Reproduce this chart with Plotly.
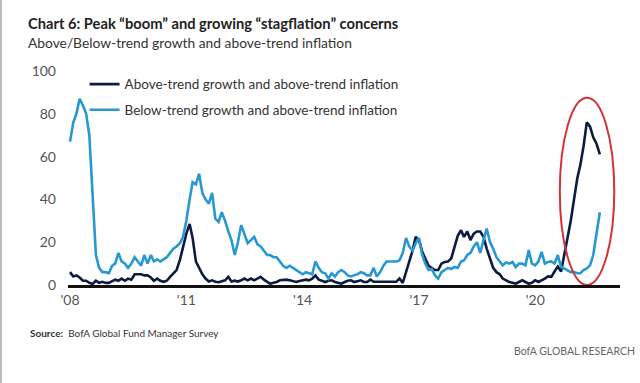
import pandas as pd
import plotly.graph_objects as go

# Monthly survey readings (% of FMS respondents), Jan 2008 onward
dates = pd.date_range("2008-01-01", periods=165, freq="MS")

above_trend = [
    6, 4, 4.5, 3.5, 2, 2, 1, 0.5, 2, 1, 1.5, 1, 1, 2, 2.5, 2, 3, 2, 3, 2.5,
    5, 5, 5, 4.5, 4.5, 3.5, 2, 3, 2, 1.5, 2, 3.8, 5.3, 7, 11.6, 18, 24, 28.5, 22, 11,
    7.7, 5, 3, 1.6, 2.2, 1.5, 1.3, 1.6, 2.2, 3.8, 1.6, 2, 1.6, 2.2, 3, 2.2, 3, 2.2, 3, 3.8,
    2.5, 1.4, 0.6, 1, 1.4, 2.2, 2.5, 2.5, 2.2, 1.8, 1.4, 1.9, 2.2, 2.5, 2.2, 3, 4.5, 2.5, 2, 1.4,
    2, 2.2, 1.4, 1, 0.6, 1.4, 2, 2.2, 1.4, 1.8, 2.2, 1.4, 1.4, 2.5, 1.5, 1.5, 1.5, 1.5, 1.2, 1.5,
    1.2, 1.5, 3, 1, 6, 11, 16, 22.5, 21, 15.5, 12, 9, 8, 7, 7, 10, 10.8, 11, 12.4, 17.8,
    23, 25.6, 22.5, 25, 21, 24, 25, 25, 22.5, 17, 12.4, 8, 6, 5, 3, 2.2, 1.4, 1, 0.6, 1.4,
    2.2, 1.4, 0.6, 1, 2.2, 1.4, 2, 3, 4, 3.8, 6.3, 8.6, 6.3, 14, 22, 30, 40, 50, 56, 65,
    76, 74, 69, 66, 61,
]

below_trend = [
    67, 76, 80, 87, 84, 80, 70, 40, 14, 8, 6, 6, 5.5, 9, 10, 15, 11, 10, 8, 10,
    13, 11, 9, 14, 10, 14, 11, 12, 11, 12, 13, 15, 17, 18, 19.5, 22.5, 30, 40, 48, 47,
    52, 43, 40, 38, 43, 31, 29.5, 34, 30, 25, 21, 14, 20, 28, 24, 19.5, 21, 22.5, 19, 18,
    16, 14, 14, 13, 13, 11, 9, 8, 9, 8, 7, 6, 5, 6, 5.5, 5, 11, 8, 6, 5.5,
    3, 5.5, 4, 6, 7, 6, 4.5, 4, 4.5, 5, 6, 5.5, 4.5, 4.5, 8, 4, 6, 9, 11, 11,
    11, 11, 11.5, 15, 22, 18, 16, 19.5, 22, 14, 10, 7, 7.5, 4.5, 3, 6, 7, 8, 7.5, 8.5,
    8, 11, 11.5, 14, 15, 18, 20, 15, 21, 26.4, 20, 17, 13, 10.8, 9.2, 10.5, 10, 10.8, 8.4, 10,
    10, 9.2, 16.3, 10, 9.2, 11, 15.5, 10, 10.8, 11, 10, 14, 8.4, 7.7, 7, 6, 6, 5.5, 5.5, 7,
    7.7, 9.2, 14, 23, 34,
]

series_names = [
    "Above-trend growth and above-trend inflation",
    "Below-trend growth and above-trend inflation",
]
tick_dates = ["2008-01-01", "2011-01-01", "2014-01-01", "2017-01-01", "2020-01-01"]
tick_text = ["'08", "'11", "'14", "'17", "'20"]
y_ticks = [0, 20, 40, 60, 80, 100]

FONT = "Lato, 'Open Sans', sans-serif"
DARK = "#0c1c40"
BLUE = "#2898d2"

fig = go.Figure()
fig.add_trace(go.Scatter(
    x=dates, y=above_trend, mode="lines", name=series_names[0],
    line=dict(color=DARK, width=2.6), cliponaxis=False, legendgroup="a",
))
fig.add_trace(go.Scatter(
    x=dates, y=below_trend, mode="lines", name=series_names[1],
    line=dict(color=BLUE, width=2.6), cliponaxis=False, legendgroup="b",
))

# red ellipse highlighting the recent period
fig.add_shape(
    type="circle", xref="x", yref="y",
    x0="2020-08-20", x1="2022-01-15", y0=0, y1=87.5,
    line=dict(color="#d0343a", width=2), layer="above",
)

PH = 214  # plot height in px
PW = 552  # plot width in px

fig.update_layout(
    width=640, height=383,
    margin=dict(l=68, r=20, t=71, b=98, autoexpand=False),
    paper_bgcolor="white", plot_bgcolor="white",
    font=dict(family=FONT, color="#444", size=14),
    showlegend=True,
    legend=dict(
        x=0.03, y=1.01, xanchor="left", yanchor="top",
        bgcolor="rgba(0,0,0,0)", font=dict(size=13.5, color="#333", family=FONT),
        tracegroupgap=5, itemwidth=30,
    ),
    xaxis=dict(
        type="date", range=["2007-12-13", "2022-03-10"],
        tickvals=tick_dates, ticktext=tick_text,
        showgrid=False, zeroline=False, showline=True, automargin=False,
        linecolor="#111", linewidth=2.5, ticks="",
        tickfont=dict(size=14, color="#555"),
    ),
    yaxis=dict(
        range=[0, 100], tickvals=y_ticks, automargin=False,
        showgrid=False, zeroline=False, showline=False, ticks="",
        tickfont=dict(size=14, color="#555"), ticklabelstandoff=11,
    ),
    annotations=[
        dict(text="<b>Chart 6: Peak “boom” and growing “stagflation” concerns</b>",
             xref="paper", yref="paper", x=(26 - 68) / PW, y=1.0, xanchor="left", yanchor="middle",
             yshift=(71 - 23), showarrow=False,
             font=dict(size=14.7, color="#222", family=FONT)),
        dict(text="Above/Below-trend growth and above-trend inflation",
             xref="paper", yref="paper", x=(26 - 68) / PW, y=1.0, xanchor="left", yanchor="middle",
             yshift=(71 - 42), showarrow=False,
             font=dict(size=13.8, color="#333", family=FONT)),
        dict(text="<b>Source:</b>  BofA Global Fund Manager Survey",
             xref="paper", yref="paper", x=(28 - 68) / PW, y=0.0, xanchor="left", yanchor="middle",
             yshift=-(333 - 285), showarrow=False,
             font=dict(size=10, color="#333", family=FONT)),
        dict(text="BofA GLOBAL RESEARCH",
             xref="paper", yref="paper", x=(637 - 68) / PW, y=0.0, xanchor="right", yanchor="middle",
             yshift=-(351 - 285), showarrow=False,
             font=dict(size=10.5, color="#666", family=FONT)),
    ],
    shapes=[
        dict(type="rect", xref="paper", yref="paper", layer="above",
             x0=(12 - 68) / PW, x1=(19 - 68) / PW, y0=1.0 + (71 - 10) / PH, y1=1.0 + (71 - 51) / PH,
             fillcolor="#1d4f96", line=dict(width=0)),
        dict(type="line", xref="paper", yref="paper",
             x0=(1 - 68) / PW, x1=(1 - 68) / PW, y0=-98 / PH, y1=1 + 71 / PH,
             line=dict(color="#bbbbbb", width=2)),
    ],
)

fig.write_html(
    "out.html",
    config={"displayModeBar": False},
    post_script="document.body.style.margin='0';document.body.style.padding='0';",
)
